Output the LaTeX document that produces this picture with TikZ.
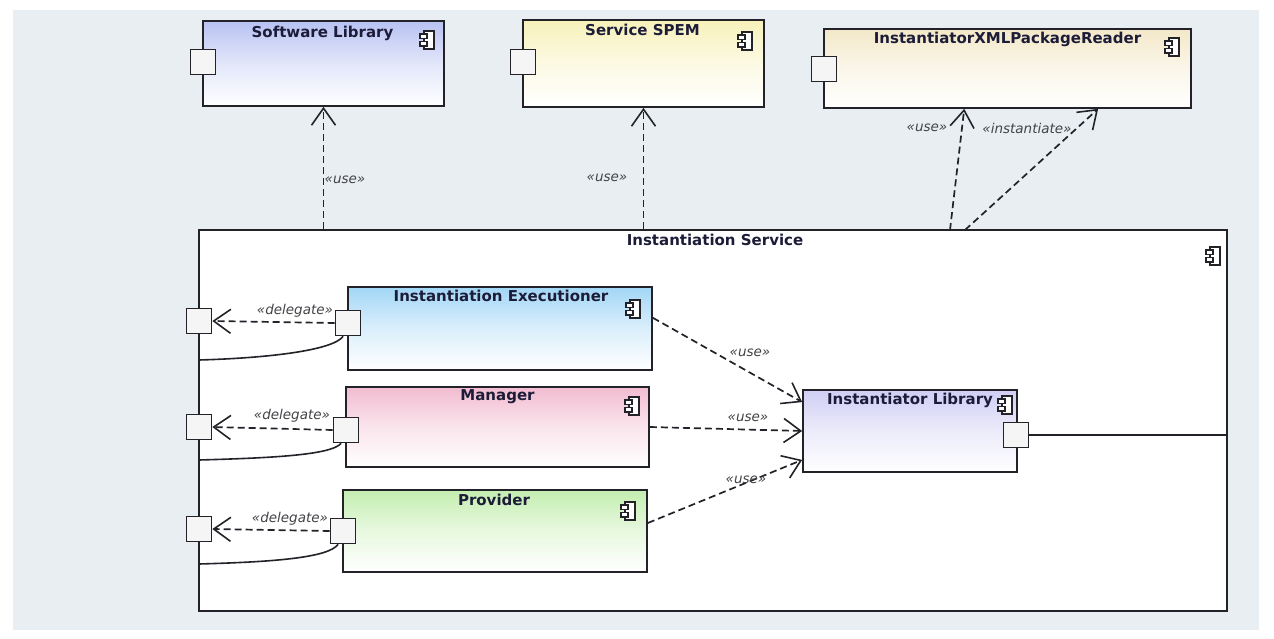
\documentclass[tikz,border=0pt]{standalone}
\usepackage{fontspec}
\setmainfont{DejaVu Sans}
\usetikzlibrary{arrows.meta,calc}

\definecolor{bg}{HTML}{E9EEF3}
\definecolor{ink}{HTML}{222228}
\definecolor{titleink}{HTML}{1C1C38}
\definecolor{swblue}{HTML}{B8C2F2}
\definecolor{spemyellow}{HTML}{F7F1BA}
\definecolor{xmlcream}{HTML}{F3E8C8}
\definecolor{execblue}{HTML}{A2D6F6}
\definecolor{mgrpink}{HTML}{F2BCD0}
\definecolor{provgreen}{HTML}{C4EEB0}
\definecolor{liblav}{HTML}{D0CEF4}
\definecolor{portfill}{HTML}{F5F5F5}

\tikzset{
  box/.style={draw=ink, line width=1.7pt, rectangle, inner sep=0pt},
  comp/.style={box, top color=#1, bottom color=white, middle color=#1!40!white},
  container/.style={box, fill=white},
  port/.style={box, fill=portfill, minimum size=25pt, line width=1.6pt},
  title/.style={font=\bfseries\fontsize{15}{17}\selectfont, text=titleink, inner sep=0pt, anchor=north},
  lbl/.style={font=\itshape\fontsize{13.5}{15}\selectfont, text=ink!85, inner sep=0pt},
  dep/.style={draw=ink, line width=1.7pt, dash pattern=on 7pt off 4pt,
    -{Straight Barb[length=17pt,width=24pt,line width=1.6pt]}},
  wire/.style={draw=ink, line width=1.6pt},
  compicon/.pic={
    \draw[ink, line width=1.4pt, fill=white] (-4,-9) rectangle (6,9);
    \draw[ink, line width=1.4pt, fill=white] (-8,-6) rectangle (-1,-1.5);
    \draw[ink, line width=1.4pt, fill=white] (-8,1.5) rectangle (-1,6);
  }
}

\begin{document}
\begin{tikzpicture}[x=1pt, y=-1pt]
  \useasboundingbox (0,0) rectangle (1274,639);
  \fill[bg] (13,10) rectangle (1259,630);

  % external components
  \node[comp=swblue, minimum width=241pt, minimum height=85pt] (sw) at (323.5,63.5) {};
  \node[comp=spemyellow, minimum width=241pt, minimum height=87pt] (spem) at (643.5,63.5) {};
  \node[comp=xmlcream, minimum width=367pt, minimum height=79pt] (xml) at (1007.5,68.5) {};
  \node[title] (swt) at ($(sw.north)+(-1,6)$) {Software Library};
  \node[title] (spemt) at ($(spem.north)+(-1,5)$) {Service SPEM};
  \node[title] (xmlt) at ($(xml.north)+(0,4)$) {InstantiatorXMLPackageReader};
  \pic at ($(sw.north east)+(-17,20)$) {compicon};
  \pic at ($(spem.north east)+(-19,22)$) {compicon};
  \pic at ($(xml.north east)+(-19,19)$) {compicon};
  \node[port] (swp) at (203,62) {};
  \node[port] (spemp) at (523,62) {};
  \node[port] (xmlp) at (824,69) {};

  % the composite service
  \node[container, minimum width=1028pt, minimum height=381pt] (svc) at (713,420.5) {};
  \node[title] (svct) at ($(svc.north)+(2,5)$) {Instantiation Service};
  \pic at ($(svc.north east)+(-14,27)$) {compicon};

  % inner parts
  \node[comp=execblue, minimum width=304pt, minimum height=83pt] (ie) at (500,328.5) {};
  \node[comp=mgrpink, minimum width=303pt, minimum height=80pt] (mgr) at (497.5,427) {};
  \node[comp=provgreen, minimum width=304pt, minimum height=82pt] (prov) at (495,531) {};
  \node[comp=liblav, minimum width=214pt, minimum height=82pt] (lib) at (910,431) {};
  \node[title] (iet) at ($(ie.north)+(1,4)$) {Instantiation Executioner};
  \node[title] (mgrt) at ($(mgr.north)+(0,3)$) {Manager};
  \node[title] (provt) at ($(prov.north)+(-1,5)$) {Provider};
  \node[title] (libt) at ($(lib.north)+(0,4)$) {Instantiator Library};
  \pic at ($(ie.north east)+(-19,23)$) {compicon};
  \pic at ($(mgr.north east)+(-17,20)$) {compicon};
  \pic at ($(prov.north east)+(-19,22)$) {compicon};
  \pic at ($(lib.north east)+(-12,16)$) {compicon};

  % ports
  \node[port] (iep) at (348,323) {};
  \node[port] (mgrp) at (346,430) {};
  \node[port] (provp) at (343,531) {};
  \node[port] (libp) at (1016,435) {};
  \node[port] (iop) at (199,321) {};
  \node[port] (mop) at (199,427) {};
  \node[port] (pop) at (199,529) {};

  % dependencies towards the external components
  \coordinate (xuse) at (950,230);
  \coordinate (xinst) at (965,230);
  \draw[dep] (sw.south |- svc.north) -- (sw.south);
  \draw[dep] (spem.south |- svc.north) -- (spem.south);
  \draw[dep] (xuse) -- (xml.-137);
  \draw[dep] (xinst) -- (xml.-24);
  \node[lbl] (u1) at (345,180) {«use»};
  \node[lbl] (u2) at (607,178) {«use»};
  \node[lbl] (u3) at (927,128) {«use»};
  \node[lbl] (u4) at (1027,128) {«instantiate»};

  % inner usage of the library
  \draw[dep] (ie.4) -- (lib.165);
  \draw[dep] (mgr.east) -- (lib.west);
  \draw[dep] (prov.3) -- (lib.195);
  \node[lbl] (u5) at (750,353) {«use»};
  \node[lbl] (u6) at (748,418) {«use»};
  \node[lbl] (u7) at (746,480) {«use»};

  % delegation to the boundary ports
  \draw[dep] (iep.west) -- (iop.east);
  \draw[dep] (mgrp.west) -- (mop.east);
  \draw[dep] (provp.west) -- (pop.east);
  \node[lbl] (d1) at (295,311) {«delegate»};
  \node[lbl] (d2) at (292,416) {«delegate»};
  \node[lbl] (d3) at (290,519) {«delegate»};

  % wires from the parts to the boundary
  \coordinate (iew) at (199,360);
  \coordinate (mgrw) at (199,460);
  \coordinate (provw) at (199,564);
  \draw[wire] (iep.-110) .. controls +(-10,14) and +(70,-2) .. (iew);
  \draw[wire] (mgrp.-110) .. controls +(-10,12) and +(70,-2) .. (mgrw);
  \draw[wire] (provp.-110) .. controls +(-10,14) and +(70,-2) .. (provw);
  \draw[wire] (libp.east) -- (libp.east -| svc.east);
\end{tikzpicture}
\end{document}
